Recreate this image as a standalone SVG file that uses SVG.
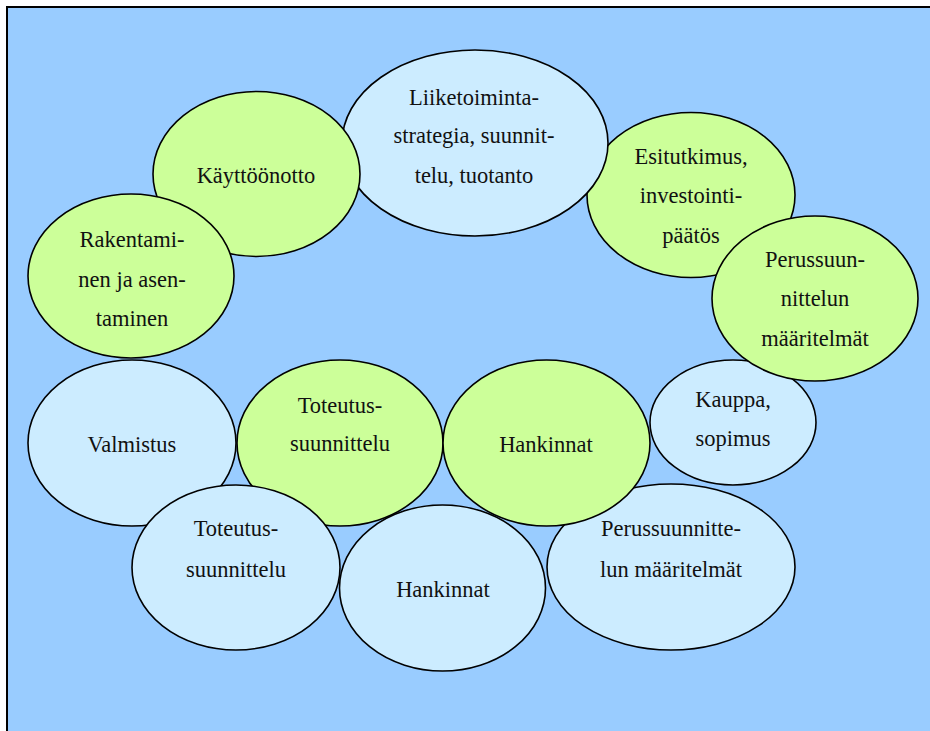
<svg xmlns="http://www.w3.org/2000/svg" width="930" height="731" viewBox="0 0 930 731">
  <style>
    .bg { fill: #99CCFF; stroke: #000; stroke-width: 2; }
    .node ellipse { stroke: #000; stroke-width: 1.6; }
    .pale ellipse { fill: #CCECFF; }
    .lime ellipse { fill: #CCFF99; }
    text { font-family: "Liberation Serif", "Times New Roman", serif; font-size: 22.5px; fill: #111; text-anchor: middle; }
  </style>
  <rect x="0" y="0" width="930" height="731" fill="#fff"/>
  <rect class="bg" x="7" y="7" width="940" height="740"/>

  <g id="nodes">
    <g id="esitutkimus" class="node lime">
      <ellipse cx="691" cy="195" rx="104" ry="82.5"/>
      <text x="691" y="164">Esitutkimus,</text>
      <text x="691" y="203">investointi-</text>
      <text x="691" y="243">päätös</text>
    </g>
    <g id="liiketoiminta" class="node pale">
      <ellipse cx="475" cy="143" rx="133" ry="93"/>
      <text x="474" y="105">Liiketoiminta-</text>
      <text x="474" y="143">strategia, suunnit-</text>
      <text x="474" y="183">telu, tuotanto</text>
    </g>
    <g id="kayttoonotto" class="node lime">
      <ellipse cx="256.5" cy="174" rx="103.5" ry="82.5"/>
      <text x="256" y="183">Käyttöönotto</text>
    </g>
    <g id="rakentaminen" class="node lime">
      <ellipse cx="131" cy="276" rx="103" ry="82"/>
      <text x="132" y="247">Rakentami-</text>
      <text x="132" y="287">nen ja asen-</text>
      <text x="132" y="326">taminen</text>
    </g>
    <g id="kauppa" class="node pale">
      <ellipse cx="733" cy="422.5" rx="83" ry="62.5"/>
      <text x="733" y="407">Kauppa,</text>
      <text x="733" y="446">sopimus</text>
    </g>
    <g id="perussuunnittelu-lime" class="node lime">
      <ellipse cx="815" cy="298.5" rx="103" ry="82.5"/>
      <text x="815" y="267">Perussuun-</text>
      <text x="815" y="306">nittelun</text>
      <text x="815" y="346">määritelmät</text>
    </g>
    <g id="valmistus" class="node pale">
      <ellipse cx="132" cy="443" rx="104" ry="83"/>
      <text x="132" y="452">Valmistus</text>
    </g>
    <g id="toteutus-lime" class="node lime">
      <ellipse cx="340" cy="443" rx="103" ry="83"/>
      <text x="340" y="413">Toteutus-</text>
      <text x="340" y="451">suunnittelu</text>
    </g>
    <g id="perussuunnittelu-pale" class="node pale">
      <ellipse cx="671" cy="567" rx="124" ry="83"/>
      <text x="671" y="536">Perussuunnitte-</text>
      <text x="671" y="577">lun määritelmät</text>
    </g>
    <g id="hankinnat-lime" class="node lime">
      <ellipse cx="546.5" cy="443" rx="103.5" ry="83"/>
      <text x="546" y="452">Hankinnat</text>
    </g>
    <g id="toteutus-pale" class="node pale">
      <ellipse cx="236" cy="567.5" rx="104" ry="82.5"/>
      <text x="236" y="536">Toteutus-</text>
      <text x="236" y="577">suunnittelu</text>
    </g>
    <g id="hankinnat-pale" class="node pale">
      <ellipse cx="442.5" cy="588" rx="103" ry="83"/>
      <text x="443" y="597">Hankinnat</text>
    </g>
  </g>
  <g id="connectors"/>
</svg>
